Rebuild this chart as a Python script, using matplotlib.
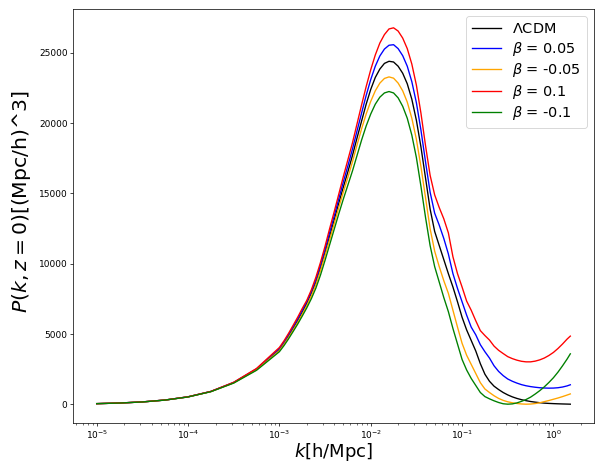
import matplotlib
matplotlib.use("Agg")
import matplotlib.pyplot as plt
import numpy as np

# log10 of wavenumber k [h/Mpc] at which the curves were read
log10_k = [-5.0, -4.75, -4.5, -4.25, -4.0, -3.75, -3.5, -3.25,
           -3.0, -2.95, -2.9, -2.85, -2.8, -2.75, -2.7, -2.65, -2.6, -2.55,
           -2.5, -2.45, -2.4, -2.35, -2.3, -2.25, -2.2, -2.15, -2.1, -2.05,
           -2.0, -1.95, -1.9, -1.85, -1.8, -1.75, -1.7, -1.65, -1.6, -1.55,
           -1.5, -1.45, -1.4, -1.35, -1.3, -1.25, -1.2, -1.15, -1.1, -1.05,
           -1.0, -0.95, -0.9, -0.85, -0.8, -0.75, -0.7, -0.65, -0.6, -0.55,
           -0.5, -0.45, -0.4, -0.35, -0.3, -0.25, -0.2, -0.15, -0.1, -0.05,
           0.0, 0.05, 0.1, 0.15, 0.185]

p_lcdm = [58, 102, 180, 315, 540, 920, 1550, 2500,
          3900, 4350, 4850, 5400, 5950, 6550, 7200, 7900, 8700, 9700,
          10800, 11950, 13120, 14300, 15450, 16550, 17700, 18950, 20150, 21350,
          22400, 23250, 23850, 24250, 24400, 24350, 24050, 23550, 22800, 21700,
          20200, 18300, 16100, 13900, 12300, 11300, 10300, 9300, 8350, 7300,
          6200, 5300, 4550, 3800, 2900, 2150, 1650, 1300, 1060, 850,
          680, 540, 430, 340, 270, 210, 165, 125, 95, 75,
          60, 47, 36, 27, 20]

p_b005 = [58, 102, 181, 316, 543, 925, 1565, 2530,
          3980, 4430, 4950, 5510, 6070, 6680, 7300, 8020, 8870, 9900,
          11020, 12220, 13400, 14620, 15820, 16970, 18150, 19450, 20720, 21970,
          23100, 24050, 24780, 25270, 25540, 25580, 25300, 24800, 24050, 22950,
          21450, 19500, 17250, 15100, 13600, 12750, 11800, 10700, 9300, 8250,
          7300, 6350, 5500, 4950, 4250, 3750, 3300, 2750, 2350, 2050,
          1810, 1650, 1520, 1410, 1330, 1270, 1225, 1190, 1170, 1160,
          1165, 1190, 1240, 1320, 1400]

p_bm005 = [58, 101, 179, 314, 537, 915, 1535, 2460,
           3830, 4270, 4760, 5290, 5830, 6420, 7030, 7720, 8530, 9520,
           10600, 11720, 12850, 14000, 15100, 16150, 17250, 18450, 19600, 20650,
           21550, 22300, 22850, 23180, 23290, 23200, 22850, 22300, 21500, 20350,
           18850, 16900, 14700, 12500, 10900, 9800, 8800, 7900, 6700, 5500,
           4350, 3500, 2850, 2200, 1550, 1100, 850, 620, 430, 290,
           190, 120, 70, 35, 20, 30, 65, 120, 200, 280,
           370, 460, 560, 670, 750]

p_b01 = [58, 103, 182, 317, 546, 930, 1580, 2560,
         4050, 4520, 5050, 5620, 6200, 6820, 7400, 8150, 9050, 10100,
         11250, 12500, 13700, 14950, 16200, 17400, 18600, 19950, 21300, 22600,
         23800, 24850, 25700, 26300, 26700, 26780, 26550, 26050, 25300, 24200,
         22700, 20700, 18400, 16300, 14900, 14000, 13200, 12200, 10500, 9300,
         8350, 7350, 6700, 5950, 5250, 4900, 4580, 4150, 3850, 3620,
         3400, 3260, 3150, 3070, 3030, 3030, 3080, 3170, 3300, 3480,
         3700, 3980, 4300, 4650, 4860]

p_bm01 = [58, 101, 178, 313, 534, 910, 1520, 2430,
          3750, 4180, 4660, 5180, 5710, 6280, 6870, 7520, 8280, 9200,
          10250, 11350, 12450, 13550, 14600, 15600, 16600, 17700, 18800, 19800,
          20650, 21350, 21850, 22150, 22250, 22150, 21800, 21200, 20350, 19150,
          17550, 15500, 13300, 11300, 9800, 8700, 7600, 6600, 5400, 4300,
          3200, 2450, 1850, 1350, 850, 560, 400, 260, 140, 50,
          20, 40, 110, 220, 350, 520, 740, 980, 1250, 1560,
          1900, 2300, 2750, 3230, 3600]

labels = [r"$\Lambda$CDM", r"$\beta$ = 0.05", r"$\beta$ = -0.05",
          r"$\beta$ = 0.1", r"$\beta$ = -0.1"]
colors = ["black", "blue", "orange", "red", "green"]
series = [p_lcdm, p_b005, p_bm005, p_b01, p_bm01]

k = 10.0 ** np.array(log10_k)

DPI = 65
fig = plt.figure(figsize=(595 / DPI, 463 / DPI), dpi=DPI)
ax = fig.add_axes([73 / 595, 40 / 463, 521 / 595, 414 / 463])
for vals, col, lab in zip(series, colors, labels):
    ax.plot(k, vals, color=col, lw=1.5, label=lab)
ax.set_xscale("log")
ax.tick_params(labelsize=10, pad=2.5)
ax.set_xlabel(r"$k$[h/Mpc]", fontsize=20, labelpad=0.5)
ax.set_ylabel(r"$P(k, z=0)$[(Mpc/h)^3]", fontsize=22.5)
ax.yaxis.set_label_coords(-0.077, 0.535)
ax.legend(loc="upper right", fontsize=16, labelspacing=0.25)
fig.savefig("out.png", dpi=DPI)
